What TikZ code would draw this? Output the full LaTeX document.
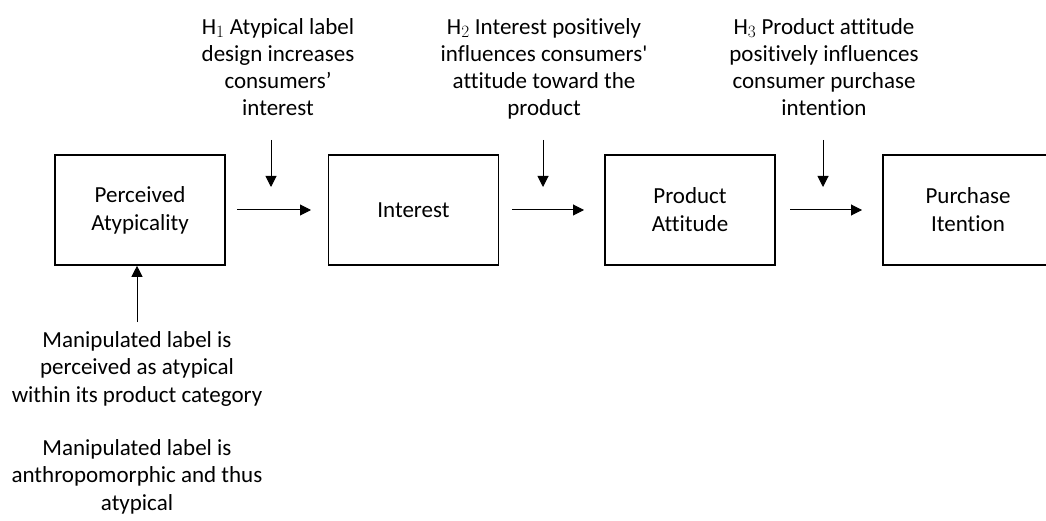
\documentclass[tikz,border=0pt]{standalone}
\usepackage{fontspec}
\setmainfont{Carlito}[Ligatures={NoCommon}]
\usetikzlibrary{arrows.meta}
\begin{document}
\begin{tikzpicture}[x=1pt,y=-1pt,
  box/.style={draw, line width=1.6pt, minimum width=170pt, minimum height=110pt, inner sep=0pt, align=center, font=\fontsize{23}{28}\selectfont},
  lbl/.style={align=center, inner sep=0pt, font=\fontsize{23}{27.3}\selectfont},
  arr/.style={line width=1pt, -{Triangle[length=11pt,width=11pt]}}]
\useasboundingbox (0,0) rectangle (1046,521);
\begin{scope}
\clip (0,0) rectangle (1046,521);
\node[box] (pa) at (140,210) {Perceived\\Atypicality};
\node[box] (in) at (413.5,210) {Interest};
\node[box] (pt) at (690,210) {Product\\Attitude};
\node[box] (pi) at (968,210) {Purchase\\Itention};
\end{scope}
\coordinate (a1s) at (237,210); \coordinate (a1e) at (311,210);
\coordinate (a2s) at (512,210); \coordinate (a2e) at (584,210);
\coordinate (a3s) at (790,210); \coordinate (a3e) at (862,210);
\draw[arr] (a1s) -- (a1e);
\draw[arr] (a2s) -- (a2e);
\draw[arr] (a3s) -- (a3e);
\node[lbl, anchor=base] (h1) at (278,116) {$\mathrm{H}_1$ Atypical label\\design increases\\consumers’\\interest};
\node[lbl, anchor=base] (h2) at (544,116) {$\mathrm{H}_2$ Interest positively\\influences consumers\textquotesingle\\attitude toward the\\product};
\node[lbl, anchor=base] (h3) at (824,116) {$\mathrm{H}_3$ Product attitude\\positively influences\\consumer purchase\\intention};
\coordinate (v1s) at (271,140); \coordinate (v1e) at (271,187);
\coordinate (v2s) at (543,140); \coordinate (v2e) at (543,187);
\coordinate (v3s) at (823,140); \coordinate (v3e) at (823,187);
\draw[arr] (v1s) -- (v1e);
\draw[arr] (v2s) -- (v2e);
\draw[arr] (v3s) -- (v3e);
\node[lbl, anchor=base] (m1) at (137,402) {Manipulated label is\\perceived as atypical\\within its product category};
\node[lbl, anchor=base] (m2) at (137,510) {Manipulated label is\\anthropomorphic and thus\\atypical};
\coordinate (bs) at (137,322);
\draw[arr] (bs) -- (bs |- pa.south);
\end{tikzpicture}
\end{document}
